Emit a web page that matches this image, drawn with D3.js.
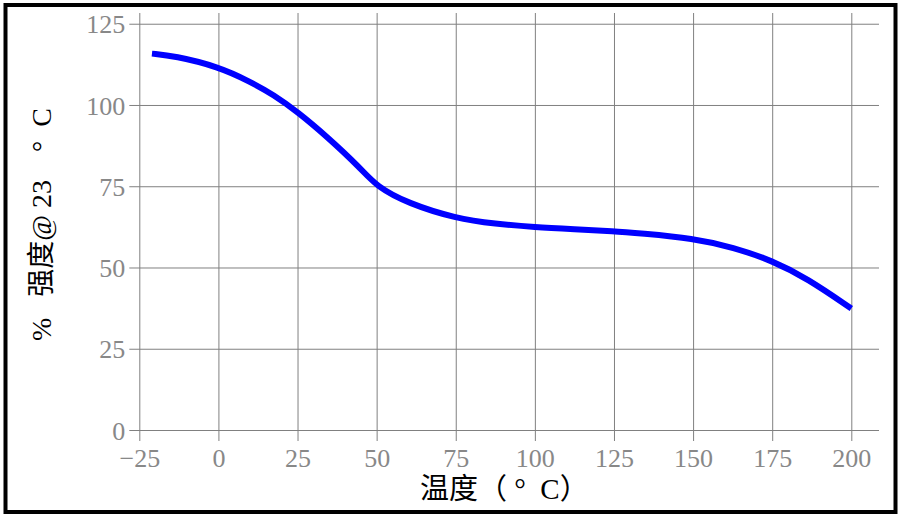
<!DOCTYPE html>
<html>
<head>
<meta charset="utf-8">
<script src="https://cdn.jsdelivr.net/npm/d3@7"></script>
<style>
  body { margin: 0; background: white; }
  #container { width: 904px; height: 527px; }
</style>
</head>
<body>
<div id="container"></div>
<script>
// values
let temps    = [-21, -14, 0, 10, 17.5, 25, 34.3, 45, 50, 60, 75, 87.5, 100, 112.5, 125, 133.3, 150, 162.8, 175, 186, 200];
let strength = [115.8, 115.1, 111.8, 107.2, 103.1, 97.9, 90.3, 80.5, 74.9, 69.7, 65.1, 63.4, 62.4, 61.8, 61.2, 60.5, 59.0, 56.2, 52.1, 46.7, 37.4];
let xTicks = [-25, 0, 25, 50, 75, 100, 125, 150, 175, 200];
let yTicks = [0, 25, 50, 75, 100, 125];
let xTitle = '温度（\u00a0°\u00a0\u00a0C）';
let yTitle = '%\u00a0\u00a0\u00a0强度@ 23\u00a0\u00a0\u00a0\u00a0°\u00a0\u00a0C';

let w = 904,
    h = 527;

let viz = d3.select('#container')
    .append('svg')
      .attr('width', w)
      .attr('height', h)
      .style('background', 'white');

let plotL = 139.3, plotR = 879, plotT = 13, plotB = 430;
let serif = "'Liberation Serif', 'Times New Roman'";
let titleFont = "'Liberation Serif', 'Noto Sans CJK SC'";

function main() {
    // frame round the whole picture
    viz.append('rect')
        .attr('x', 5.5).attr('y', 5)
        .attr('width', 890).attr('height', 507)
        .attr('fill', 'none')
        .attr('stroke', 'black')
        .attr('stroke-width', 4);

    let x = d3.scaleLinear().domain([-25, 208.75]).range([plotL, plotR]);
    let y = d3.scaleLinear().domain([0, 128.3]).range([plotB, plotT]);

    let gx = viz.append('g')
        .attr('transform', 'translate(0,' + plotB + ')')
        .call(d3.axisBottom(x).tickValues(xTicks).tickSizeOuter(0).tickPadding(8)
            .tickFormat(d => d < 0 ? '\u2212' + Math.abs(d) : d));
    gx.selectAll('.tick line').attr('y2', -(plotB - plotT)).attr('y1', 11);

    let gy = viz.append('g')
        .attr('transform', 'translate(' + plotL + ',0)')
        .call(d3.axisLeft(y).tickValues(yTicks).tickSizeOuter(0).tickPadding(14));
    gy.selectAll('.tick line').attr('x2', plotR - plotL).attr('x1', -10);

    [gx, gy].forEach(g => {
        g.select('.domain').remove();
        g.selectAll('.tick line').attr('stroke', '#808080').attr('stroke-width', 1);
        g.selectAll('.tick text')
            .attr('fill', '#888888')
            .style('font-family', serif)
            .style('font-size', '26px');
    });
    gx.selectAll('.tick text').attr('y', 17).attr('dy', '0.75em');
    gy.selectAll('.tick text').attr('x', -14).attr('dy', '0.35em');

    // the strength curve
    let line = d3.line()
        .x((d, i) => x(temps[i]))
        .y(d => y(d))
        .curve(d3.curveBasis);

    viz.append('path')
        .datum(strength)
        .attr('d', line)
        .attr('fill', 'none')
        .attr('stroke', '#0000ff')
        .attr('stroke-width', 6);

    // axis titles
    viz.append('text')
        .attr('x', 420)
        .attr('y', 499)
        .style('font-family', titleFont)
        .style('font-size', '29px')
        .attr('fill', 'black')
        .text(xTitle);

    viz.append('text')
        .attr('transform', 'translate(51,341) rotate(-90)')
        .style('font-family', titleFont)
        .style('font-size', '28px')
        .attr('fill', 'black')
        .text(yTitle);
}

main();
</script>
</body>
</html>
